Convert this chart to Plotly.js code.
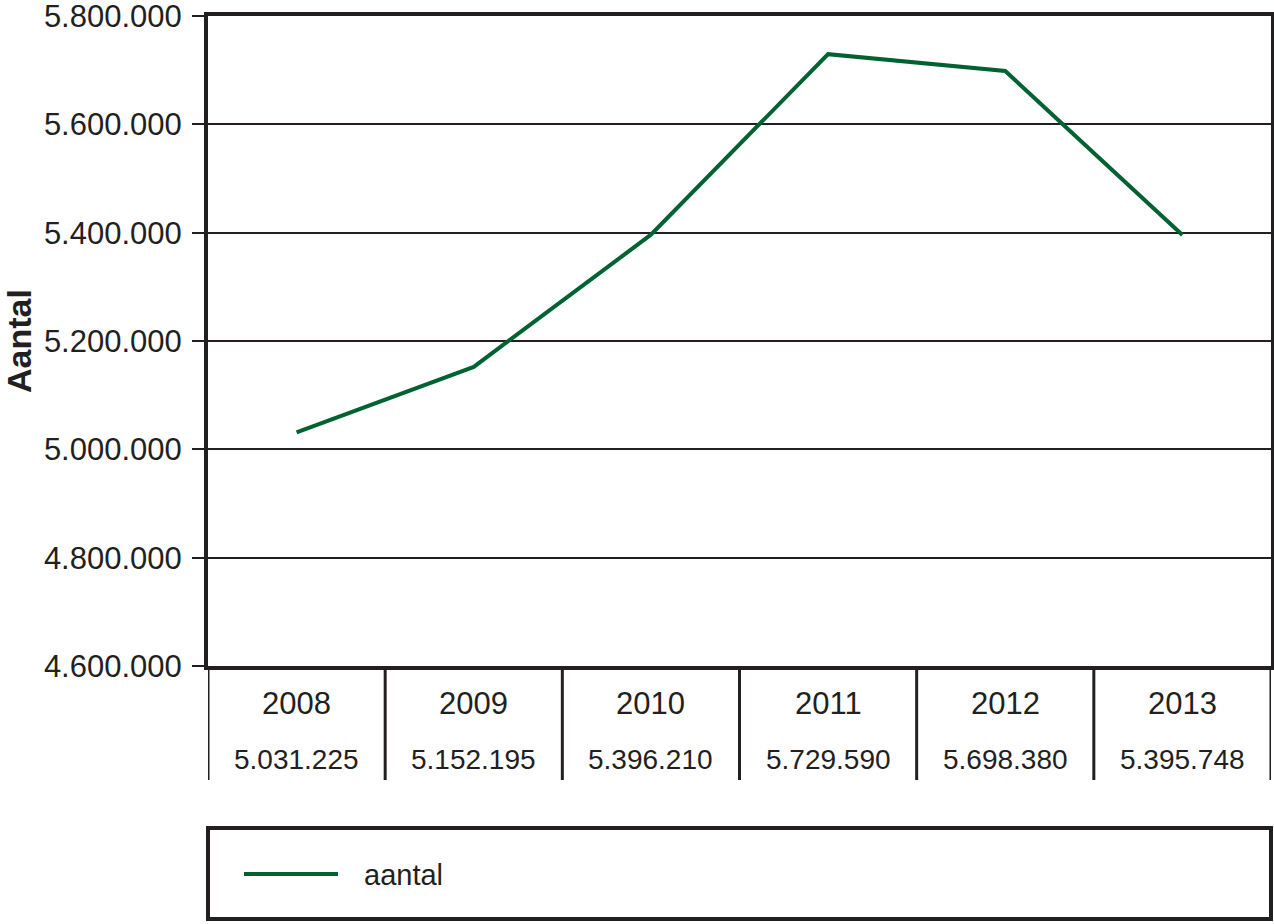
<!DOCTYPE html>
<html>
<head>
<meta charset="utf-8">
<script src="https://cdn.plot.ly/plotly-3.0.1.min.js"></script>
<style>
html,body{margin:0;padding:0;background:#fff;}
#chart{width:1274px;height:924px;}
</style>
</head>
<body>
<div id="chart"></div>
<script>
const years = ['2008', '2009', '2010', '2011', '2012', '2013'];
const aantal = [5031225, 5152195, 5396210, 5729590, 5698380, 5395748];
const valueLabels = ['5.031.225', '5.152.195', '5.396.210', '5.729.590', '5.698.380', '5.395.748'];
const yTickVals = [4600000, 4800000, 5000000, 5200000, 5400000, 5600000, 5800000];
const yTickText = ['4.600.000', '4.800.000', '5.000.000', '5.200.000', '5.400.000', '5.600.000', '5.800.000'];
const seriesName = 'aantal';
const yTitle = 'Aantal';

const ink = '#231f20';
const green = '#006230';
const font = 'Liberation Sans, Arial, sans-serif';

const plotTop = 16, plotBottom = 666, plotH = plotBottom - plotTop;
const py = p => (plotBottom - p) / plotH; // pixel y -> paper y

const shapes = [];
const annotations = [];

// table column separators
for (let k = 0; k <= years.length; k++) {
  shapes.push({type: 'line', xref: 'x', yref: 'paper', x0: k - 0.5, x1: k - 0.5,
    y0: py(plotBottom), y1: py(780), line: {color: ink, width: 3}});
}
years.forEach((yr, i) => {
  annotations.push({xref: 'x', yref: 'paper', x: i, y: py(703), text: yr, showarrow: false,
    font: {family: font, size: 31, color: ink}, xanchor: 'center', yanchor: 'middle'});
  annotations.push({xref: 'x', yref: 'paper', x: i, y: py(759), text: valueLabels[i], showarrow: false,
    font: {family: font, size: 28, color: ink}, xanchor: 'center', yanchor: 'middle'});
});

// legend box
shapes.push({type: 'rect', xref: 'paper', yref: 'paper', x0: 0, x1: 1, y0: py(919), y1: py(828),
  line: {color: ink, width: 4}, fillcolor: 'rgba(0,0,0,0)'});
const lx0 = (244 - 208) / 1063, lx1 = (338 - 208) / 1063;
shapes.push({type: 'line', xref: 'paper', yref: 'paper', x0: lx0, x1: lx1, y0: py(874), y1: py(874),
  line: {color: green, width: 4}});
annotations.push({xref: 'paper', yref: 'paper', x: (362 - 208) / 1063, y: py(875), text: seriesName,
  showarrow: false, xanchor: 'left', yanchor: 'middle', font: {family: font, size: 29, color: ink}});

const trace = {
  type: 'scatter', mode: 'lines', x: years, y: aantal, name: seriesName,
  line: {color: green, width: 4}, showlegend: false, cliponaxis: false
};

const layout = {
  width: 1274, height: 924,
  margin: {l: 208, r: 3, t: plotTop, b: 924 - plotBottom, pad: 0},
  paper_bgcolor: '#fff', plot_bgcolor: '#fff',
  font: {family: font, color: ink},
  showlegend: false,
  xaxis: {
    type: 'category', range: [-0.5, years.length - 0.5],
    showticklabels: false, ticks: '', showgrid: false, zeroline: false,
    showline: true, linecolor: ink, linewidth: 4, mirror: true, fixedrange: true
  },
  yaxis: {
    range: [4600000, 5800000], tickvals: yTickVals, ticktext: yTickText,
    ticks: 'outside', ticklen: 12, tickwidth: 2, tickcolor: ink,
    tickfont: {family: font, size: 31, color: ink}, ticklabelstandoff: 4,
    ticklabeloverflow: 'allow',
    showgrid: true, gridcolor: ink, gridwidth: 2, zeroline: false,
    showline: true, linecolor: ink, linewidth: 4, mirror: true, fixedrange: true,
    title: {text: '<b>' + yTitle + '</b>', font: {family: font, size: 34, color: ink}, standoff: 6}
  },
  shapes: shapes,
  annotations: annotations
};

Plotly.newPlot('chart', [trace], layout, {staticPlot: true, displayModeBar: false});
</script>
</body>
</html>
